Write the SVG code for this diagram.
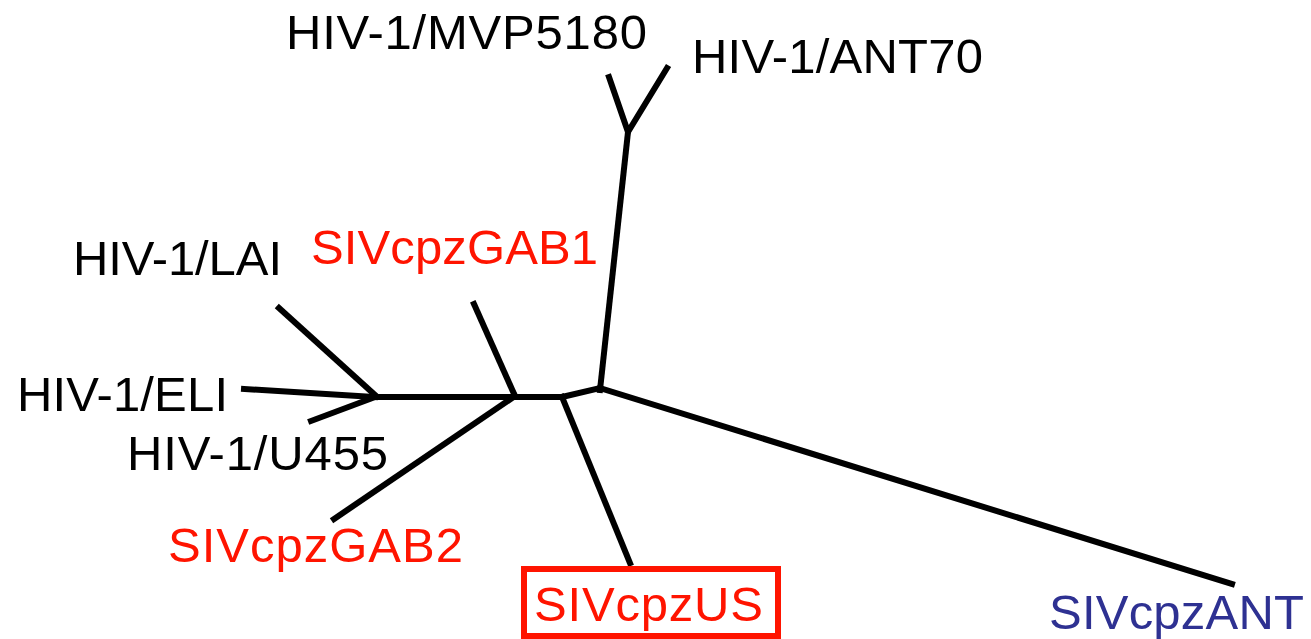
<svg xmlns="http://www.w3.org/2000/svg" width="1311" height="639" viewBox="0 0 1311 639">
<style>
text{font-family:"Liberation Sans",Arial,sans-serif;font-size:49px;}
.k{fill:#000}
.r{fill:#ff1400}
.b{fill:#2e3192}
.e{fill:none;stroke:#000;stroke-width:6;stroke-linecap:square;stroke-linejoin:round}
</style>
<rect width="1311" height="639" fill="#fff"/>
<g id="edges">
<polyline class="e" points="609,77 628,132 667,68"/>
<polyline class="e" points="628,132 600,390"/>
<polyline class="e" points="600,388 1232,584"/>
<polyline class="e" points="515,397 562,397 600,388"/>
<polyline class="e" points="562,397 630,563"/>
<polyline class="e" points="375,397 515,397"/>
<polyline class="e" points="474,304 515,396"/>
<polyline class="e" points="515,396 334,519"/>
<polyline class="e" points="279,308 375,395"/>
<polyline class="e" points="244,389 375,397"/>
<polyline class="e" points="311,421 375,397"/>
</g>
<g id="n-mvp5180"><text class="k" x="286" y="49" textLength="361" lengthAdjust="spacing">HIV-1/MVP5180</text></g>
<g id="n-ant70"><text class="k" x="692" y="73" textLength="291" lengthAdjust="spacing">HIV-1/ANT70</text></g>
<g id="n-lai"><text class="k" x="73" y="275" textLength="209" lengthAdjust="spacing">HIV-1/LAI</text></g>
<g id="n-gab1"><text class="r" x="311" y="264" textLength="287" lengthAdjust="spacing">SIVcpzGAB1</text></g>
<g id="n-eli"><text class="k" x="17" y="411" textLength="211" lengthAdjust="spacing">HIV-1/ELI</text></g>
<g id="n-u455"><text class="k" x="127" y="470" textLength="261" lengthAdjust="spacing">HIV-1/U455</text></g>
<g id="n-gab2"><text class="r" x="168" y="562" textLength="295" lengthAdjust="spacing">SIVcpzGAB2</text></g>
<g id="n-us">
<rect x="524" y="569" width="254" height="67" fill="none" stroke="#ff1400" stroke-width="6"/>
<text class="r" x="534" y="621" textLength="229" lengthAdjust="spacing">SIVcpzUS</text>
</g>
<g id="n-ant"><text class="b" x="1049" y="629" font-size="46" textLength="255" lengthAdjust="spacing">SIVcpzANT</text></g>
</svg>
